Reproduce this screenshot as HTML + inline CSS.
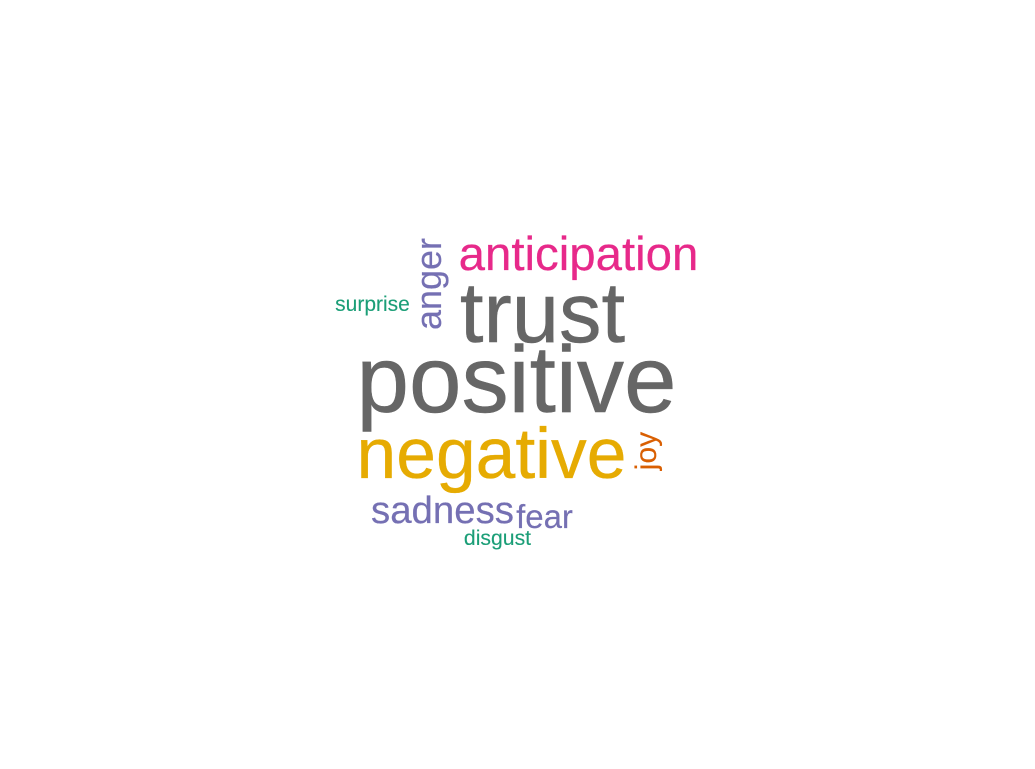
<!DOCTYPE html>
<html lang="en">
<head>
<meta charset="utf-8">
<title>Emotion word cloud</title>
<style>
html,body{margin:0;padding:0;background:#fff;width:1035px;height:769px;overflow:hidden}
svg{display:block}
text{font-family:"Liberation Sans",Arial,sans-serif}
</style>
</head>
<body>
<svg id="cloud" width="1035" height="769" viewBox="0 0 1035 769" xmlns="http://www.w3.org/2000/svg">
<rect width="1035" height="769" fill="#ffffff"/>
</svg>
<script>
const words = ["positive","trust","negative","anticipation","anger","sadness","fear","joy","surprise","disgust"];
const counts = [94.4,85,71.4,47.4,36,38.4,33,30,21,21.2];
const colors = ["#666666","#666666","#E6AB02","#E7298A","#7570B3","#7570B3","#7570B3","#D95F02","#1B9E77","#1B9E77"];
const anchorX = [516.5,542.5,491.5,578.5,441,442.5,544.5,656,372.5,497.5];
const anchorY = [412,342,478,270,284,523,528,451,311,545];
const turned = [false,false,false,false,true,false,false,true,false,false];

const svg = document.getElementById('cloud');
const fontScale = v => v * 1;

words.forEach((word, i) => {
  const size = fontScale(counts[i]);
  const el = document.createElementNS('http://www.w3.org/2000/svg', 'text');
  
  
  el.setAttribute('text-anchor', 'middle');
  el.setAttribute('font-size', size);
  el.setAttribute('fill', colors[i]);
  el.setAttribute('stroke', colors[i]);
  el.setAttribute('stroke-width', size * 0.005);
  el.setAttribute('x', anchorX[i]);
  el.setAttribute('y', anchorY[i]);
  if (turned[i]) {
    el.setAttribute('transform', 'rotate(-90 ' + anchorX[i] + ' ' + anchorY[i] + ')');
  }
  el.textContent = word;
  svg.appendChild(el);
});
</script>
</body>
</html>
